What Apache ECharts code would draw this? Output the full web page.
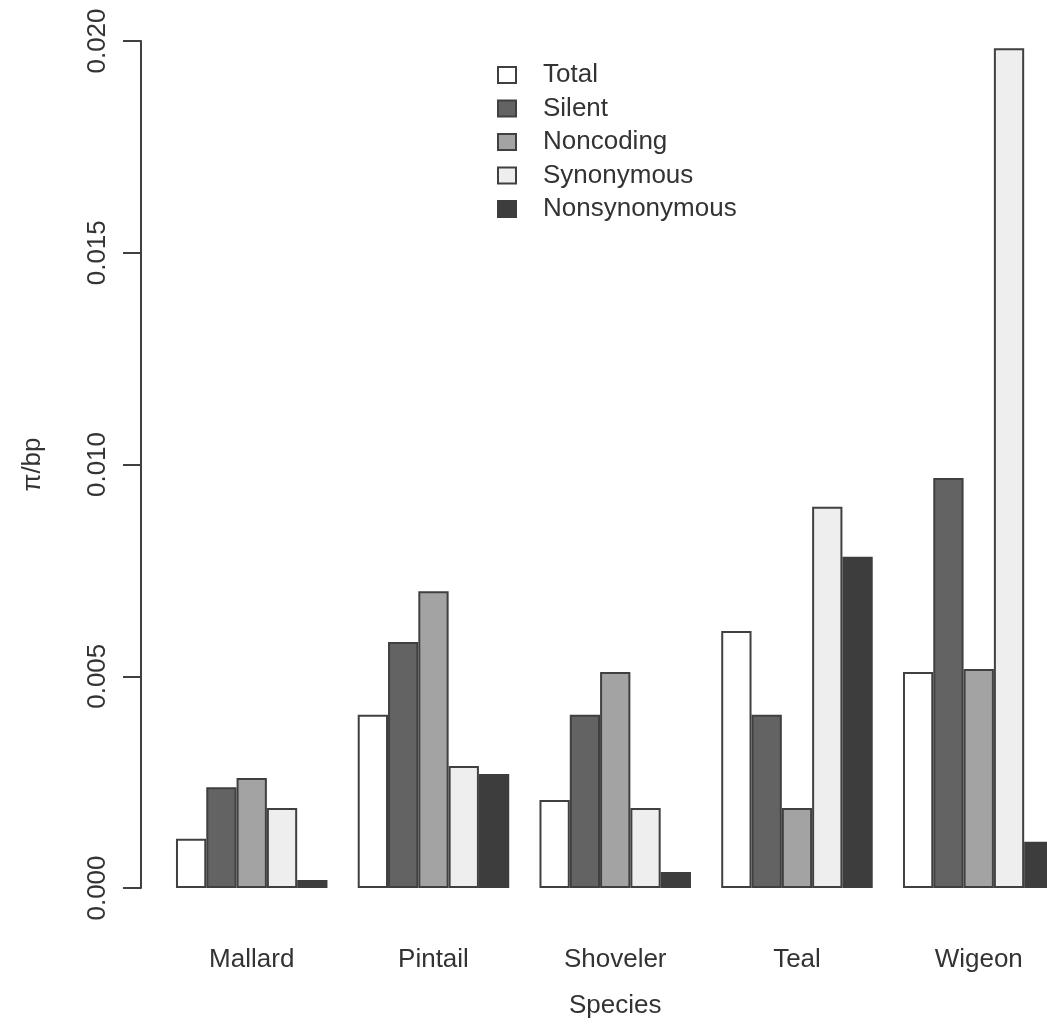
<!DOCTYPE html>
<html>
<head>
<meta charset="utf-8">
<script src="https://cdn.jsdelivr.net/npm/echarts@6/dist/echarts.min.js"></script>
<style>html,body{margin:0;padding:0;background:#fff;overflow:hidden;width:1047px;height:1024px}#c{width:1100px;height:1024px}</style>
</head>
<body>
<div id="c"></div>
<script>
var categories = ['Mallard', 'Pintail', 'Shoveler', 'Teal', 'Wigeon'];
var seriesNames = ['Total', 'Silent', 'Noncoding', 'Synonymous', 'Nonsynonymous'];
var total = [0.00116, 0.00409, 0.00208, 0.00607, 0.00510];
var silent = [0.00238, 0.00581, 0.00409, 0.00409, 0.00968];
var noncoding = [0.00260, 0.00701, 0.00510, 0.00189, 0.00517];
var synonymous = [0.00189, 0.00288, 0.00189, 0.00900, 0.01983];
var nonsynonymous = [0.00019, 0.00269, 0.00038, 0.00782, 0.00109];
var yTicks = [0, 0.005, 0.010, 0.015, 0.020];

var values = [total, silent, noncoding, synonymous, nonsynonymous];
var fills = ['#ffffff', '#636363', '#a3a3a3', '#eeeeee', '#3d3d3d'];
var borders = ['#404040', '#404040', '#404040', '#404040', '#3d3d3d'];
var FONT = '"Liberation Sans", Arial, sans-serif';
var TXT = '#333333';

var chart = echarts.init(document.getElementById('c'), null, {renderer: 'canvas', width: 1100, height: 1024});
var series = seriesNames.map(function (n, i) {
  return {
    name: n, type: 'bar', data: values[i],
    barWidth: 30.3, barGap: '0%',
    itemStyle: {color: fills[i], borderColor: borders[i], borderWidth: 2},
    emphasis: {disabled: true},
    animation: false
  };
});
chart.setOption({
  animation: false,
  backgroundColor: '#ffffff',
  grid: {left: 160.85, top: 41, width: 908.75, height: 847, containLabel: false},
  legend: {
    orient: 'vertical', left: 497, top: 62, padding: 0,
    icon: 'rect',
    itemWidth: 18, itemHeight: 16, itemGap: 7.5,
    data: seriesNames,
    textStyle: {fontFamily: FONT, fontSize: 26, color: TXT, lineHeight: 26, padding: [0, 0, 0, 22]},
    selectedMode: false
  },
  xAxis: {
    type: 'category', data: categories,
    axisLine: {show: false}, axisTick: {show: false},
    axisLabel: {fontFamily: FONT, fontSize: 26, color: TXT, margin: 59},
    name: 'Species', nameLocation: 'middle', nameGap: 105,
    nameTextStyle: {fontFamily: FONT, fontSize: 26, color: TXT}
  },
  yAxis: {
    type: 'value', min: 0, max: 0.02, interval: 0.005, offset: 19.85,
    splitLine: {show: false},
    axisLine: {show: true, lineStyle: {color: '#404040', width: 2}},
    axisTick: {show: true, length: 18, lineStyle: {color: '#404040', width: 2}},
    axisLabel: {
      fontFamily: FONT, fontSize: 26, color: TXT, rotate: 90, margin: 30,
      formatter: function (v) { return v.toFixed(3); }
    },
    name: 'π/bp', nameLocation: 'middle', nameGap: 95, nameRotate: 90,
    nameTextStyle: {fontFamily: FONT, fontSize: 26, color: TXT}
  },
  series: series
});
</script>
</body>
</html>
